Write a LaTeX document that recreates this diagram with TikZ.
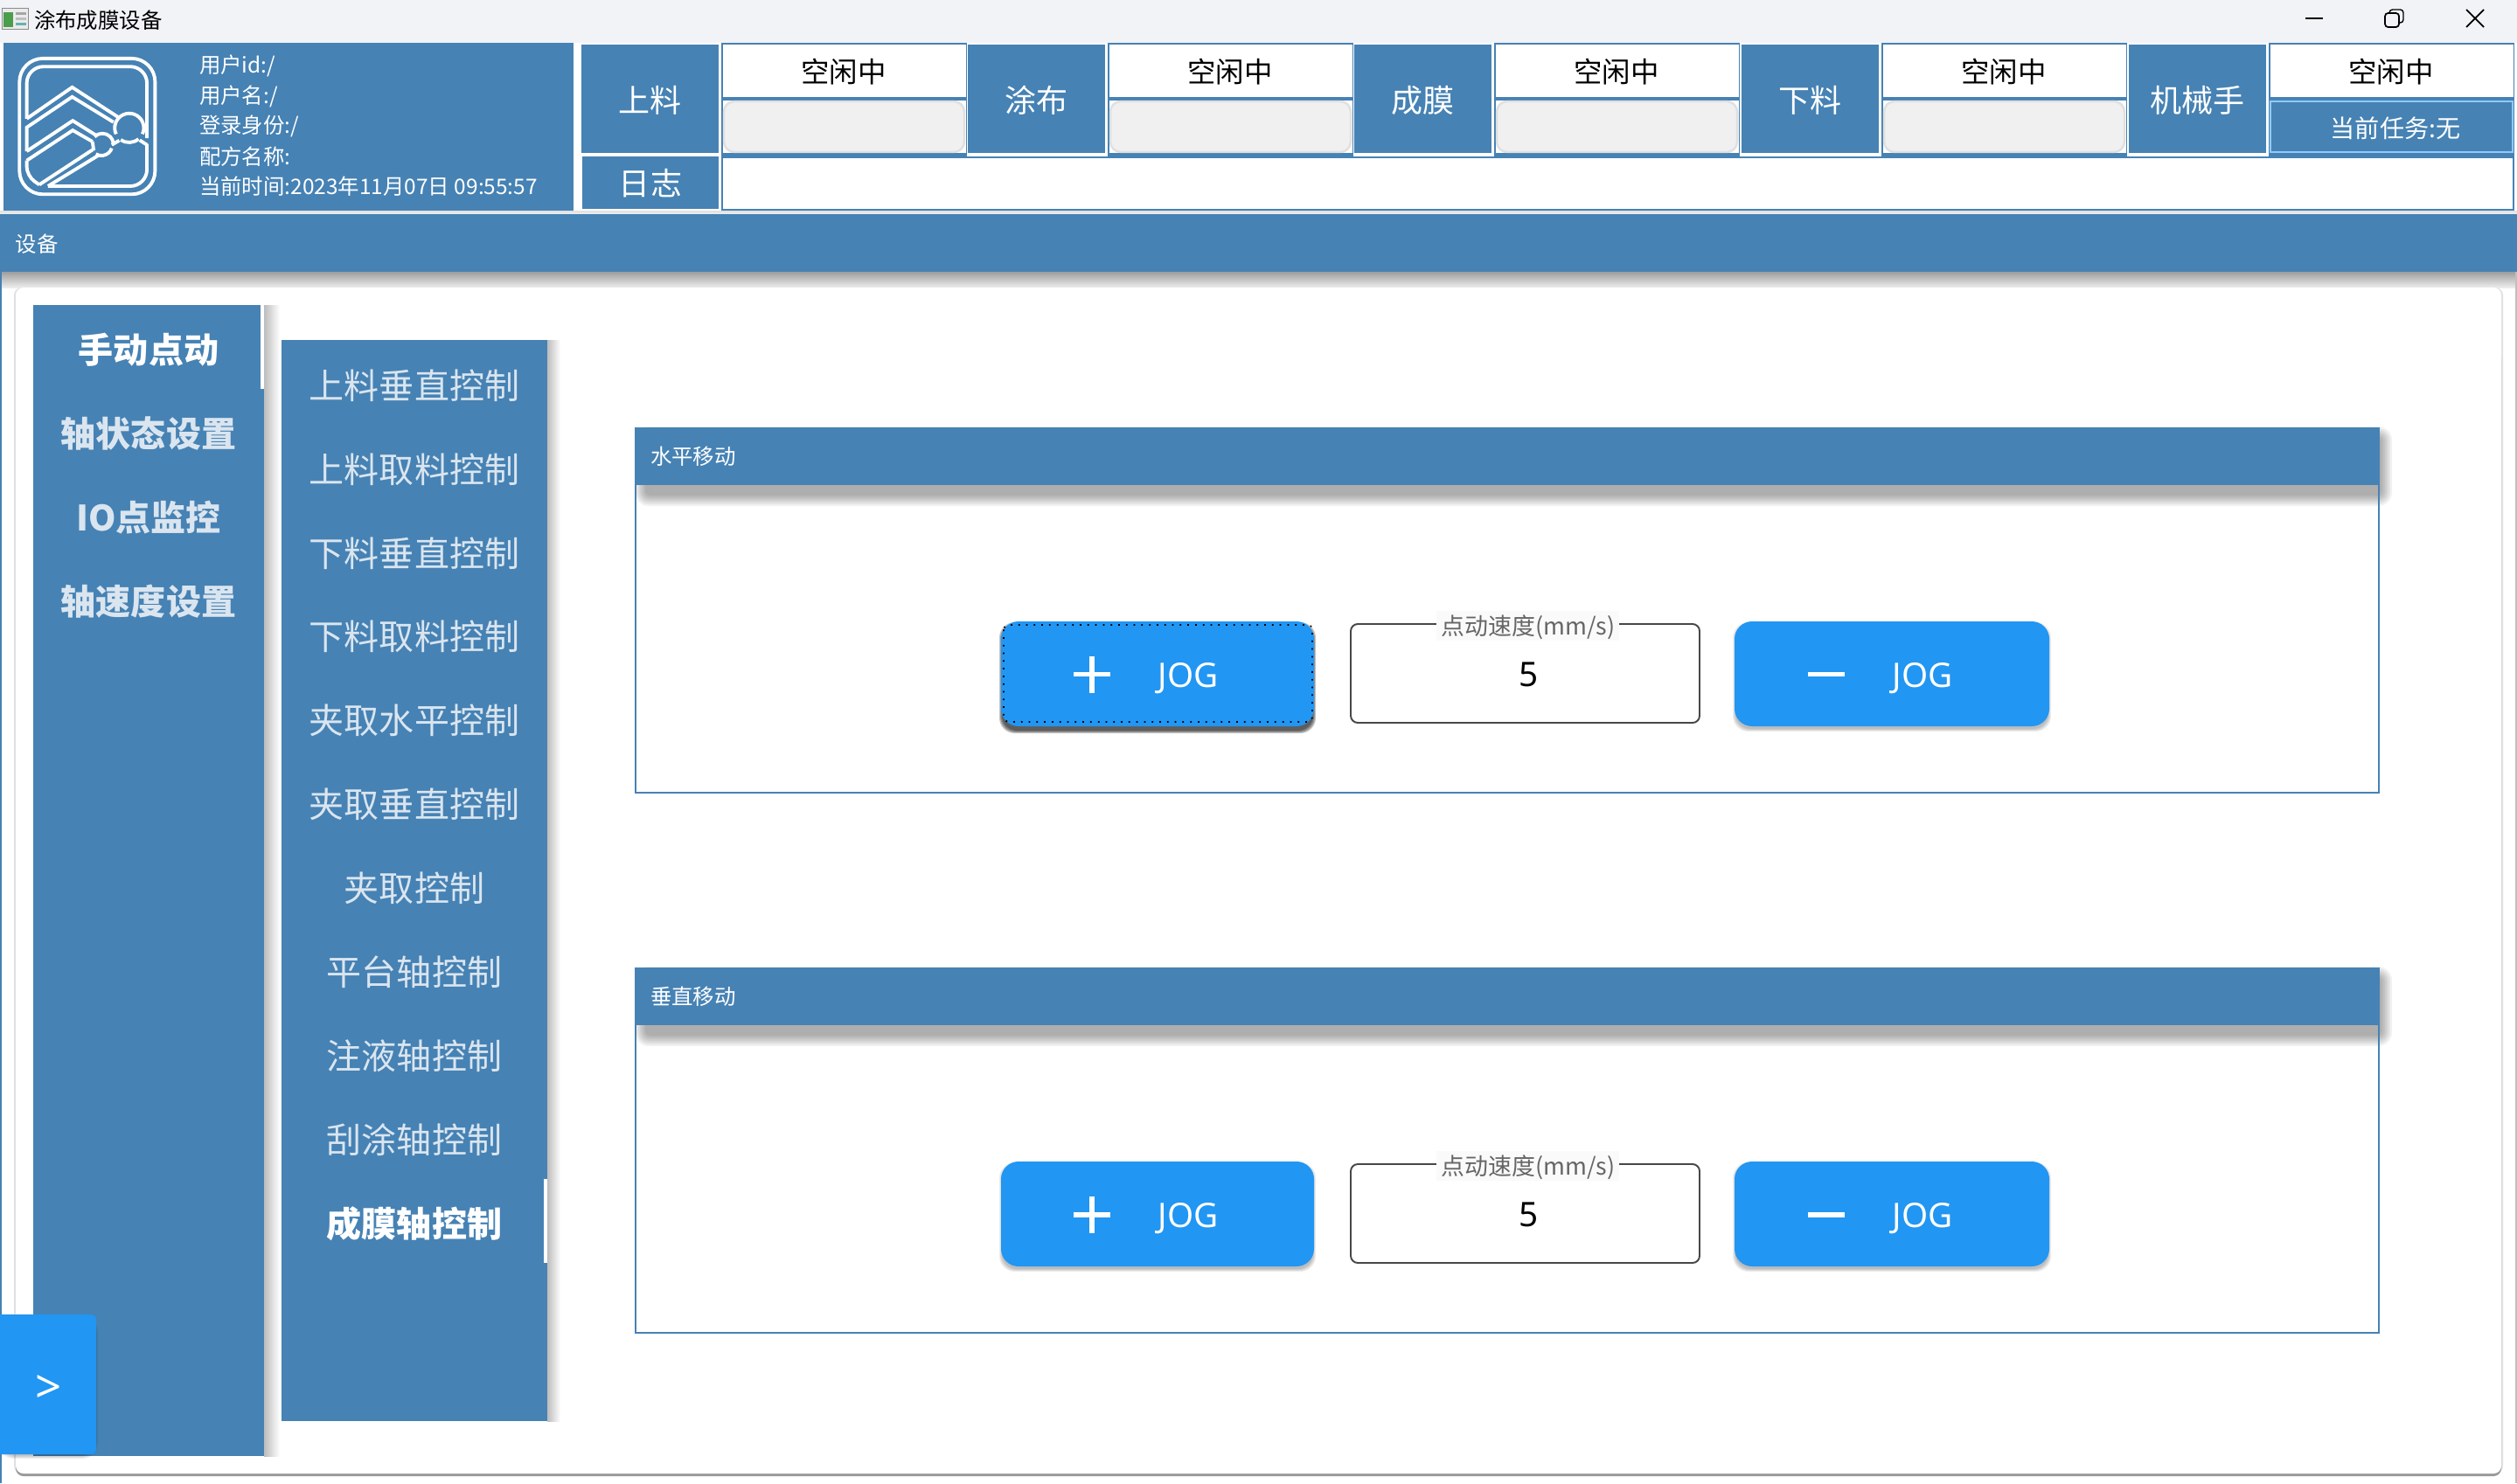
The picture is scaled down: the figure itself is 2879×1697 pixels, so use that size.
\documentclass[tikz,border=0pt]{standalone}
\usepackage{fontspec}
\usepackage{xcolor}
\setmainfont{Noto Sans CJK SC}
\newfontfamily\latinfont{Noto Sans}
\definecolor{steel}{HTML}{4682B4}
\definecolor{jogblue}{HTML}{2196F3}
\definecolor{navdim}{HTML}{DAE5EF}
\definecolor{titlebg}{HTML}{F2F3F7}
\definecolor{taskline}{HTML}{90CAF9}
% sizes in pt for 1 px = 0.01cm
\newcommand{\fnav}{\fontsize{11.38}{13}\selectfont}
\newcommand{\flab}{\fontsize{10.24}{12}\selectfont}
\newcommand{\fsta}{\fontsize{9.22}{11}\selectfont}
\newcommand{\fsma}{\fontsize{6.95}{8}\selectfont}
\newcommand{\ftsk}{\fontsize{8}{9}\selectfont}
\newcommand{\fleg}{\fontsize{7.65}{9}\selectfont}
\newcommand{\fjog}{\fontsize{11}{13}\selectfont}
\newcommand{\softshadow}[5]{%
  \foreach \d in {1,2,3,4} {
    \fill[black, opacity=#5, rounded corners=5pt] (#1-\d,#2-\d+3) rectangle (#3+\d,#4+\d+3);
  }
}
\tikzset{
  txt/.style={inner sep=0pt, outer sep=0pt},
  labbox/.style={fill=steel},
  progbox/.style={draw=black!12, line width=0.7pt, fill=black!6, rounded corners=3.4pt},
  jogbox/.style={fill=jogblue, rounded corners=5.7pt},
  grpbox/.style={draw=steel, line width=0.6pt},
  logoline/.style={draw=white, line width=1.1pt},
  jogmark/.style={white, line width=1.7pt}
}
\begin{document}
\begin{tikzpicture}[x=0.01cm, y=-0.01cm]
  \useasboundingbox (0,0) rectangle (2879,1697);
  \fill[white] (0,0) rectangle (2879,1697);
  % title bar
  \fill[titlebg] (0,0) rectangle (2879,49);
  \fill[black!45] (2,9) rectangle (33,34);
  \fill[black!8] (3,10) rectangle (32,33);
  \fill[green!45!black!70] (4,14) rectangle (15,31);
  \fill[black!35] (18,14) rectangle (30,17);
  \fill[black!25] (18,20) rectangle (30,23);
  \fill[teal!60] (18,26) rectangle (30,29);
  \node[txt, anchor=west] (title) at (39,23) {\fsma 涂布成膜设备};
  \draw[line width=0.5pt] (2637,21) -- (2657,21);
  \draw[line width=0.5pt, rounded corners=1pt] (2728,15) rectangle (2744,31);
  \draw[line width=0.4pt, rounded corners=1pt] (2733,15) -- (2733,11) -- (2749,11) -- (2749,26) -- (2744,26);
  \draw[line width=0.5pt] (2821,11) -- (2841,31);
  \draw[line width=0.5pt] (2841,11) -- (2821,31);
  % header
  \fill[steel] (4,49) rectangle (656,241);
  \begin{scope}[x=0.003333cm, y=-0.003333cm, shift={(0,90)}]
    \draw[logoline, rounded corners=7.6pt] (67,111) rectangle (533,578);
    \draw[logoline, rounded corners=5.4pt] (92,318) -- (92,139) -- (505,139) -- (505,385);
    \draw[logoline, rounded corners=5.4pt] (505,405) -- (505,550) -- (165,550);
    \draw[logoline, rounded corners=3pt] (92,462) -- (92,515) -- (135,545);
    \draw[logoline] (92,318) -- (248,210) -- (405,312);
    \draw[logoline] (92,430) -- (92,348) -- (248,243) -- (390,330);
    \draw[logoline] (92,430) -- (250,325) -- (330,375);
    \draw[logoline] (92,462) -- (250,358) -- (318,397);
    \draw[logoline] (135,545) -- (318,425);
    \draw[logoline] (165,550) -- (342,442);
    \draw[logoline] (399,371) arc[start angle=155, end angle=385, radius=50];
    \draw[logoline] (476,388) arc[start angle=50, end angle=125, radius=50];
    \draw[logoline] (480,392) -- (505,408);
    \draw[logoline] (325,380) arc[start angle=225, end angle=350, radius=38];
    \draw[logoline] (318,397) -- (322,428);
    \draw[logoline] (384,420) arc[start angle=20, end angle=120, radius=38];
    \draw[logoline] (384,408) -- (410,393);
  \end{scope}
  \foreach \i\j\k in {a/75/{用户id:/}, b/110/{用户名:/}, c/144/{登录身份:/}, d/179/配方名称:, e/213/当前时间:2023年11月07日 09:55:57} {
    \node[txt, anchor=west, text=white] (info\i) at (228,\j) {\fsma \k};
  }
  % status row
  \fill[steel] (825,179) rectangle (2876,241);
  \fill[white] (827,181) rectangle (2874,239);
  \foreach \i\j\k in {665/a/上料, 1107/b/涂布, 1549/c/成膜, 1992/d/下料, 2435/e/机械手} {
    \fill[labbox] (\i,51) rectangle (\i+157,175);
    \node[txt, text=white] (lab\j) at (\i+78.5,115) {\flab \k};
    \fill[steel] (\i+160,49) rectangle (\i+441,179);
    \fill[white] (\i+161.5,51) rectangle (\i+439.5,111);
    \fill[white] (\i+161.5,115) rectangle (\i+439.5,175);
    \node[txt] (sta\j) at (\i+300,82) {\fsta 空闲中};
  }
  \foreach \i in {665,1107,1549,1992} {
    \draw[progbox] (\i+163,116) rectangle (\i+438,174);
  }
  \fill[steel] (2596.5,115) rectangle (2874.5,175);
  \draw[draw=taskline, line width=0.6pt] (2597,116) rectangle (2874,174);
  \node[txt, text=white] (task) at (2740,147) {\ftsk 当前任务:无};
  \fill[labbox] (666,179) rectangle (822,239);
  \node[txt, text=white] (labf) at (744,210) {\flab 日志};
  % device bar
  \shade[top color=black!12, bottom color=black!6] (0,241) rectangle (2879,245);
  \fill[steel] (0,245) rectangle (2879,311);
  \node[txt, anchor=west, text=white] (devbar) at (18,279) {\fsma 设备};
  \shade[top color=black!38, bottom color=black!7] (0,311) rectangle (2879,329);
  % main panel
  \fill[steel] (0,311) rectangle (2,1697);
  \fill[black!25] (2877,311) rectangle (2879,1697);
  \fill[black!12, rounded corners=2.5pt] (16,329) rectangle (2863,1686);
  \fill[black!40, rounded corners=2.5pt] (18,400) rectangle (2861,1689);
  \fill[white, rounded corners=2.5pt] (18,329) rectangle (2861,1686);
  % nav shadows
  \shade[left color=black!26, right color=white] (302,349) rectangle (320,1666);
  \shade[left color=black!26, right color=white] (626,389) rectangle (641,1626);
  % left nav
  \fill[steel] (38,349) rectangle (302,1666);
  \fill[white] (298,349) rectangle (302,445);
  \foreach \i\j in {0/手动点动, 1/轴状态设置, 2/IO点监控, 3/轴速度设置} {
    \pgfmathsetmacro{\ypos}{400+95.9*\i}
    \ifnum\i=0
      \node[txt, text=white] (main\i) at (170,\ypos) {\fnav\bfseries \j};
    \else
      \node[txt, text=navdim] (main\i) at (170,\ypos) {\fnav\bfseries \j};
    \fi
  }
  % right nav
  \fill[steel] (322,389) rectangle (626,1626);
  \fill[white] (622,1349) rectangle (626,1445);
  \foreach \i\j in {0/上料垂直控制, 1/上料取料控制, 2/下料垂直控制, 3/下料取料控制, 4/夹取水平控制, 5/夹取垂直控制, 6/夹取控制, 7/平台轴控制, 8/注液轴控制, 9/刮涂轴控制} {
    \pgfmathsetmacro{\ypos}{441+95.9*\i}
    \node[txt, text=navdim] (sub\i) at (474,\ypos) {\fnav \j};
  }
  \node[txt, text=white] (sub10) at (474,1400) {\fnav\bfseries 成膜轴控制};
  % collapse button
  \softshadow{2}{1506}{108}{1662}{0.06}
  \fill[jogblue, rounded corners=1.7pt] (-10,1504) rectangle (110,1664);
  \node[txt, text=white] (collapse) at (56,1589) {\fontsize{15}{17}\selectfont\latinfont >};
  % groups
  \foreach \i\j\k in {a/0/水平移动, b/618/垂直移动} {
    \begin{scope}[shift={(0,\j)}]
      \foreach \d in {2,4,...,14} {
        \fill[black, opacity=0.05, rounded corners=1pt+0.25pt*\d] (740-\d,502-\d) rectangle (2722+\d,565+\d);
      }
      \draw[grpbox] (727,554) rectangle (2721,907);
      \fill[steel] (726,489) rectangle (2722,555);
      \node[txt, anchor=west, text=white] (grp\i) at (744,522) {\fsma \k};
      \ifnum\j=0
        \softshadow{1147}{713}{1501}{832}{0.22}
      \else
        \softshadow{1147}{713}{1501}{830}{0.07}
      \fi
      \softshadow{1986}{713}{2342}{830}{0.07}
      \fill[jogbox] (1145,711) rectangle (1503,831);
      \draw[jogmark] (1228,771.5) -- (1270,771.5);
      \draw[jogmark] (1249,750.5) -- (1249,792.5);
      \node[txt, text=white, anchor=base] (jogp\i) at (1359,786) {\fjog\latinfont JOG};
      \draw[draw=black!72, line width=0.55pt, fill=white, rounded corners=2.3pt] (1545,714) rectangle (1944,827);
      \fill[black!2] (1643,699) rectangle (1852,733);
      \node[txt, text=black!60] (leg\i) at (1748,718) {\fleg 点动速度(mm/s)};
      \node[txt, anchor=base] (val\i) at (1749,785) {\fjog\latinfont 5};
      \fill[jogbox] (1984,711) rectangle (2344,831);
      \draw[jogmark] (2068,771.5) -- (2110,771.5);
      \node[txt, text=white, anchor=base] (jogm\i) at (2199,786) {\fjog\latinfont JOG};
    \end{scope}
  }
  % focus ring
  \draw[black, line width=0.5pt, dotted, rounded corners=1.5pt] (1148,715) rectangle (1501,826);
\end{tikzpicture}
\end{document}
